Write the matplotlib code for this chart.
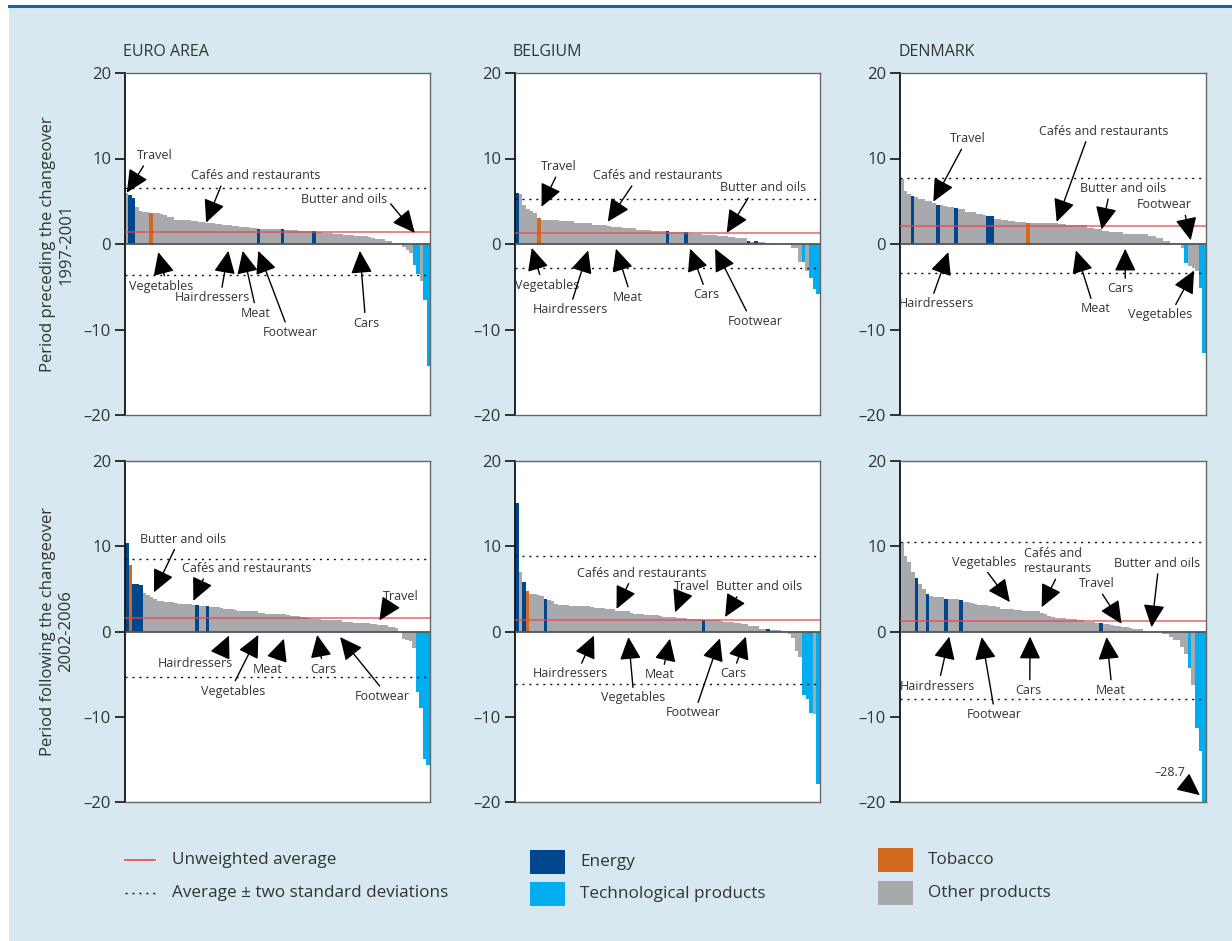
import matplotlib
matplotlib.use('Agg')
import matplotlib.pyplot as plt
from matplotlib.patches import Rectangle
from matplotlib.lines import Line2D

plt.rcParams['font.family'] = ['Open Sans', 'DejaVu Sans']

# ---------------- data ----------------
ea_pre_vals = [6.0, 5.7, 5.4, 4.35, 3.9, 3.75, 3.7, 3.6, 3.6, 3.6, 3.5, 3.45, 3.2, 3.1,
               2.85, 2.8, 2.8, 2.8, 2.75, 2.7, 2.65, 2.6, 2.55, 2.5, 2.45, 2.4, 2.35, 2.3,
               2.2, 2.2, 2.2, 2.15, 2.05, 2.0, 2.0, 1.95, 1.9, 1.85, 1.75, 1.75, 1.75, 1.75,
               1.7, 1.7, 1.7, 1.7, 1.65, 1.6, 1.6, 1.6, 1.55, 1.5, 1.5, 1.5, 1.5, 1.45, 1.4,
               1.3, 1.3, 1.25, 1.2, 1.2, 1.15, 1.1, 1.1, 1.05, 0.95, 0.95, 0.9, 0.9, 0.8,
               0.65, 0.6, 0.6, 0.55, 0.4, 0.3, 0.1, 0.05, 0.0, -0.3, -0.65, -1.05,
               -2.4, -3.5, -4.3, -6.5, -14.3]
ea_pre_energy = [1, 2, 38, 45, 54]
ea_pre_tobacco = [7]
ea_pre_tech = [83, 84, 86, 87]

be_pre_vals = [6.0, 5.85, 4.55, 4.1, 3.85, 3.6, 3.0, 2.8, 2.8, 2.8, 2.75, 2.75, 2.7, 2.7,
               2.65, 2.65, 2.45, 2.45, 2.45, 2.45, 2.45, 2.25, 2.25, 2.25, 2.25, 2.1,
               1.95, 1.95, 1.95, 1.85, 1.85, 1.85, 1.85, 1.65, 1.65, 1.65, 1.65, 1.55,
               1.55, 1.55, 1.5, 1.5, 1.45, 1.35, 1.35, 1.35, 1.35, 1.3, 1.15, 1.15, 1.15,
               1.0, 1.0, 1.0, 1.0, 0.9, 0.9, 0.9, 0.8, 0.8, 0.65, 0.65, 0.65, 0.4, 0.25,
               0.3, 0.2, 0.2, 0.1, 0.1, 0.02, 0.0, 0.0, -0.02, -0.05, -0.5, -0.5,
               -2.1, -2.1, -3.2, -4.0, -5.3, -5.9]
be_pre_energy = [0, 41, 46, 63, 65]
be_pre_tobacco = [6]
be_pre_tech = [78, 80, 81, 82]

dk_pre_vals = [7.6, 6.2, 5.9, 5.6, 5.45, 5.3, 5.3, 5.05, 5.0, 4.75, 4.55, 4.55, 4.4, 4.35,
               4.3, 4.2, 4.1, 4.05, 3.8, 3.75, 3.7, 3.55, 3.5, 3.45, 3.25, 3.25, 2.95, 2.9,
               2.8, 2.8, 2.65, 2.65, 2.6, 2.6, 2.6, 2.45, 2.45, 2.45, 2.45, 2.45, 2.45,
               2.45, 2.45, 2.45, 2.3, 2.3, 2.2, 2.2, 2.2, 2.2, 2.2, 2.2, 1.9, 1.9, 1.7,
               1.7, 1.55, 1.55, 1.4, 1.4, 1.4, 1.4, 1.2, 1.2, 1.2, 1.2, 1.15, 1.15, 1.15,
               0.9, 0.9, 0.65, 0.65, 0.4, 0.4, 0.1, 0.05, 0.02, -0.45, -2.25, -2.6,
               -2.8, -3.2, -5.2, -12.8]
dk_pre_energy = [3, 10, 15, 24, 25]
dk_pre_tobacco = [35]
dk_pre_tech = [79, 83, 84]

ea_post_vals = [10.4, 7.85, 5.6, 5.6, 5.4, 4.5, 4.3, 4.1, 3.8, 3.6, 3.6, 3.5, 3.45, 3.45,
                3.4, 3.25, 3.2, 3.2, 3.2, 3.15, 3.1, 3.0, 3.0, 2.95, 2.9, 2.85, 2.85, 2.8,
                2.65, 2.6, 2.6, 2.5, 2.45, 2.45, 2.4, 2.4, 2.4, 2.35, 2.15, 2.15, 2.1,
                2.05, 2.05, 2.0, 2.0, 2.0, 1.95, 1.85, 1.8, 1.8, 1.7, 1.7, 1.55, 1.5, 1.5,
                1.45, 1.4, 1.35, 1.35, 1.35, 1.3, 1.3, 1.15, 1.1, 1.1, 1.0, 1.0, 1.0, 1.0,
                0.95, 0.85, 0.85, 0.8, 0.8, 0.8, 0.55, 0.5, 0.45, 0.05, -0.85, -1.05,
                -1.15, -1.9, -7.1, -8.95, -14.9, -15.7]
ea_post_energy = [0, 2, 3, 4, 20, 23]
ea_post_tobacco = [1]
ea_post_tech = [83, 84, 85, 86]

be_post_vals = [15.05, 6.95, 5.8, 4.8, 4.4, 4.35, 4.3, 4.2, 3.85, 3.65, 3.55, 3.2, 3.15,
                3.15, 3.1, 2.95, 2.95, 2.95, 2.95, 2.95, 2.95, 2.9, 2.8, 2.8, 2.75, 2.65,
                2.65, 2.6, 2.45, 2.4, 2.4, 2.35, 2.15, 2.1, 2.1, 2.05, 1.95, 1.9, 1.9,
                1.9, 1.85, 1.75, 1.7, 1.7, 1.65, 1.6, 1.6, 1.55, 1.5, 1.5, 1.5, 1.45, 1.4,
                1.35, 1.3, 1.3, 1.3, 1.25, 1.15, 1.1, 1.1, 1.05, 0.95, 0.9, 0.85, 0.7,
                0.65, 0.6, 0.3, 0.3, 0.35, 0.2, 0.2, 0.15, 0.05, 0.05, -0.35, -0.8, -2.3,
                -3.0, -7.5, -7.95, -9.55, -9.7, -17.85]
be_post_energy = [0, 2, 8, 52, 70]
be_post_tobacco = [3]
be_post_tech = [80, 81, 82, 84]

dk_post_vals = [10.45, 8.9, 8.2, 7.0, 6.3, 5.6, 5.0, 4.35, 4.2, 4.0, 4.0, 4.0, 3.85, 3.85,
                3.85, 3.8, 3.65, 3.5, 3.45, 3.4, 3.2, 3.15, 3.15, 3.1, 3.0, 2.95, 2.9,
                2.65, 2.6, 2.6, 2.6, 2.55, 2.55, 2.45, 2.4, 2.4, 2.4, 2.35, 2.2, 2.1, 1.8,
                1.75, 1.6, 1.6, 1.6, 1.5, 1.5, 1.45, 1.3, 1.3, 1.15, 1.1, 1.1, 1.05, 0.95,
                0.9, 0.9, 0.75, 0.7, 0.65, 0.5, 0.5, 0.45, 0.3, 0.27, 0.25, 0.02, 0.0,
                -0.02, -0.05, -0.08, -0.25, -0.25, -0.65, -1.05, -1.05, -1.85, -2.6,
                -4.3, -6.3, -11.3, -14.05, -28.7]
dk_post_energy = [4, 7, 12, 16, 54]
dk_post_tobacco = []
dk_post_tech = [78, 80, 81, 82]

# average, average + 2 sd, average - 2 sd
ea_pre_lines = (1.4, 6.6, -3.6)
be_pre_lines = (1.25, 5.25, -2.8)
dk_pre_lines = (2.15, 7.7, -3.4)
ea_post_lines = (1.6, 8.5, -5.3)
be_post_lines = (1.35, 8.85, -6.1)
dk_post_lines = (1.25, 10.55, -7.95)

# annotations: label, tip x (fraction of bars), tip y, text x (fraction), text y, arrow start (relpos)
ea_pre_notes = [
    ("Travel", 0.006, 6.0, 0.098, 10.35, (0.25, 0.0)),
    ("Cafés and restaurants", 0.266, 2.5, 0.43, 8.0, (0.24, 0.0)),
    ("Butter and oils", 0.95, 1.3, 0.718, 5.2, (1.0, 0.5)),
    ("Vegetables", 0.109, -0.95, 0.118, -4.95, (0.57, 1.0)),
    ("Hairdressers", 0.339, -0.8, 0.286, -6.3, (0.62, 1.0)),
    ("Meat", 0.386, -0.8, 0.43, -8.1, (0.47, 1.0)),
    ("Footwear", 0.437, -0.8, 0.541, -10.35, (0.44, 1.0)),
    ("Cars", 0.77, -0.8, 0.79, -9.25, (0.47, 1.0)),
]
be_pre_notes = [
    ("Travel", 0.087, 4.35, 0.143, 9.05, (0.47, 0.0)),
    ("Cafés and restaurants", 0.304, 2.6, 0.468, 8.0, (0.32, 0.0)),
    ("Butter and oils", 0.694, 1.3, 0.812, 6.6, (0.36, 0.0)),
    ("Vegetables", 0.055, -0.45, 0.106, -4.8, (0.4, 1.0)),
    ("Hairdressers", 0.24, -0.75, 0.18, -7.7, (0.52, 1.0)),
    ("Meat", 0.331, -0.55, 0.368, -6.25, (0.57, 1.0)),
    ("Cars", 0.574, -0.55, 0.628, -5.95, (0.43, 1.0)),
    ("Footwear", 0.656, -0.55, 0.787, -9.05, (0.38, 1.0)),
]
dk_pre_notes = [
    ("Travel", 0.109, 4.95, 0.223, 12.3, (0.37, 0.0)),
    ("Cafés and restaurants", 0.512, 2.6, 0.667, 13.2, (0.37, 0.0)),
    ("Butter and oils", 0.659, 1.7, 0.728, 6.5, (0.34, 0.0)),
    ("Footwear", 0.95, 0.43, 0.863, 4.6, (0.87, 0.0)),
    ("Hairdressers", 0.158, -0.95, 0.118, -7.0, (0.45, 1.0)),
    ("Meat", 0.575, -0.75, 0.64, -7.6, (0.38, 1.0)),
    ("Cars", 0.736, -0.55, 0.719, -5.25, (0.7, 1.0)),
    ("Vegetables", 0.961, -3.1, 0.85, -8.3, (0.71, 1.0)),
]
ea_post_notes = [
    ("Butter and oils", 0.095, 4.6, 0.191, 10.85, (0.42, 0.0)),
    ("Cafés and restaurants", 0.224, 3.6, 0.399, 7.4, (0.18, 0.0)),
    ("Travel", 0.834, 1.3, 0.904, 4.1, (0.22, 0.0)),
    ("Hairdressers", 0.341, -0.47, 0.23, -3.8, (0.82, 1.0)),
    ("Vegetables", 0.437, -0.4, 0.353, -7.0, (0.51, 1.0)),
    ("Meat", 0.521, -0.85, 0.467, -4.5, (0.77, 1.0)),
    ("Cars", 0.63, -0.4, 0.65, -4.4, (0.46, 1.0)),
    ("Footwear", 0.705, -0.65, 0.845, -7.6, (0.5, 1.0)),
]
be_post_notes = [
    ("Cafés and restaurants", 0.333, 2.65, 0.417, 6.85, (0.41, 0.0)),
    ("Travel", 0.525, 2.25, 0.579, 5.3, (0.25, 0.0)),
    ("Butter and oils", 0.689, 1.7, 0.8, 5.3, (0.27, 0.0)),
    ("Hairdressers", 0.259, -0.47, 0.183, -4.95, (0.62, 1.0)),
    ("Vegetables", 0.372, -0.65, 0.388, -7.8, (0.5, 1.0)),
    ("Meat", 0.508, -0.85, 0.475, -5.1, (0.62, 1.0)),
    ("Footwear", 0.672, -0.8, 0.585, -9.55, (0.56, 1.0)),
    ("Cars", 0.757, -0.6, 0.716, -4.95, (0.57, 1.0)),
]
dk_post_notes = [
    ("Vegetables", 0.359, 3.45, 0.275, 8.15, (0.51, 0.0)),
    ("Cafés and\nrestaurants", 0.463, 2.85, 0.517, 8.25, (0.49, 0.0)),
    ("Travel", 0.724, 0.9, 0.643, 5.6, (0.59, 0.0)),
    ("Butter and oils", 0.822, 0.5, 0.841, 8.0, (0.51, 0.0)),
    ("Hairdressers", 0.161, -0.6, 0.122, -6.4, (0.53, 1.0)),
    ("Footwear", 0.267, -0.65, 0.307, -9.75, (0.5, 1.0)),
    ("Cars", 0.425, -0.6, 0.419, -6.9, (0.56, 1.0)),
    ("Meat", 0.675, -0.65, 0.69, -6.9, (0.51, 1.0)),
    ("\u201328.7", 0.98, -19.2, 0.882, -16.5, (0.8, 0.0)),
]

titles = ["EURO AREA", "BELGIUM", "DENMARK"]
row_labels = ["Period preceding the changeover\n1997-2001",
              "Period following the changeover\n2002-2006"]
yticks = [-20, -10, 0, 10, 20]
ytick_labels = ["\u201320", "\u201310", "0", "10", "20"]

# ---------------- style ----------------
W, H = 1232, 941
BG = '#d7e8f1'
cat_colors = {'E': '#00468c', 'T': '#00aeef', 'B': '#d2691e', 'O': '#a7a9ac'}
RED = '#e8474c'
TXT = '#333333'


def fx(x):
    return x / W


def fy(y):
    return 1 - y / H


def bar_colors(n, energy, tobacco, tech):
    cols = [cat_colors['O']] * n
    for i in energy:
        cols[i] = cat_colors['E']
    for i in tobacco:
        cols[i] = cat_colors['B']
    for i in tech:
        cols[i] = cat_colors['T']
    return cols


fig = plt.figure(figsize=(W / 100, H / 100), dpi=100)
fig.patch.set_facecolor('white')
fig.patches.append(Rectangle((fx(9), 0), 1 - fx(9), fy(7), transform=fig.transFigure,
                             facecolor=BG, edgecolor='none', zorder=-10))
fig.add_artist(Line2D([fx(9), 1], [fy(6), fy(6)], color='#1f5fa6', lw=2.2))

col_x = [(125, 430), (515, 820), (900, 1206)]
row_y = [(73, 415), (461, 802)]
title_x = [123, 513, 898]

panels = [
    [(ea_pre_vals, ea_pre_energy, ea_pre_tobacco, ea_pre_tech, ea_pre_lines, ea_pre_notes),
     (be_pre_vals, be_pre_energy, be_pre_tobacco, be_pre_tech, be_pre_lines, be_pre_notes),
     (dk_pre_vals, dk_pre_energy, dk_pre_tobacco, dk_pre_tech, dk_pre_lines, dk_pre_notes)],
    [(ea_post_vals, ea_post_energy, ea_post_tobacco, ea_post_tech, ea_post_lines, ea_post_notes),
     (be_post_vals, be_post_energy, be_post_tobacco, be_post_tech, be_post_lines, be_post_notes),
     (dk_post_vals, dk_post_energy, dk_post_tobacco, dk_post_tech, dk_post_lines, dk_post_notes)],
]

for r in range(2):
    y0, y1 = row_y[r]
    for c in range(3):
        x0, x1 = col_x[c]
        vals, en, tb, te, lines, notes = panels[r][c]
        n = len(vals)
        ax = fig.add_axes([fx(x0), fy(y1), (x1 - x0) / W, (y1 - y0) / H])
        ax.set_facecolor('white')
        ax.bar(range(n), vals, width=1.0, color=bar_colors(n, en, tb, te),
               linewidth=0, zorder=1)
        avg, up, lo = lines
        ax.axhline(0, color='#555555', lw=1.3, zorder=3)
        ax.axhline(avg, color=RED, lw=1.1, alpha=0.85, zorder=4)
        ax.axhline(up, color='#111111', lw=1.0, ls=(0, (1.5, 3.5)), zorder=4)
        ax.axhline(lo, color='#111111', lw=1.0, ls=(0, (1.5, 3.5)), zorder=4)
        ax.set_xlim(-0.5, n - 0.5)
        ax.set_ylim(-20, 20)
        ax.set_xticks([])
        ax.set_yticks(yticks)
        ax.set_yticklabels(ytick_labels)
        ax.tick_params(axis='y', direction='out', length=7, width=1.3, color='#222222',
                       labelcolor=TXT, labelsize=12, pad=3)
        for s in ['top', 'right', 'bottom']:
            ax.spines[s].set_color('#666666')
            ax.spines[s].set_linewidth(1.0)
        ax.spines['left'].set_color('#111111')
        ax.spines['left'].set_linewidth(1.3)
        for label, tx_, ty_, lx, ly, rp in notes:
            ax.annotate(label, xy=(tx_ * n - 0.5, ty_), xytext=(lx * n - 0.5, ly),
                        ha='center', va='center', fontsize=9, color=TXT,
                        multialignment='left', zorder=6, annotation_clip=False,
                        arrowprops=dict(arrowstyle='-|>,head_length=0.7,head_width=0.33',
                                        color='black', lw=1.0, mutation_scale=20,
                                        shrinkA=1, shrinkB=0, relpos=rp))
        if r == 0:
            fig.text(fx(title_x[c]), fy(52), titles[c], ha='left', va='center',
                     fontsize=11.5, color=TXT)
    fig.text(fx(57), fy((y0 + y1) / 2), row_labels[r], rotation=90, ha='center',
             va='center', fontsize=12, color=TXT, multialignment='center')

# ---------------- legend ----------------
fig.add_artist(Line2D([fx(125), fx(155)], [fy(860), fy(860)], color=RED, lw=1.2))
fig.text(fx(172), fy(860), "Unweighted average", ha='left', va='center', fontsize=12.3, color=TXT)
fig.add_artist(Line2D([fx(125), fx(155)], [fy(893), fy(893)], color='#111111', lw=1.0,
                      ls=(0, (1.5, 3.5))))
fig.text(fx(172), fy(893), "Average \u00b1 two standard deviations", ha='left', va='center',
         fontsize=12.3, color=TXT)
legend_boxes = [("Energy", 'E', 530, 862), ("Technological products", 'T', 530, 894),
                ("Tobacco", 'B', 878, 860), ("Other products", 'O', 878, 893)]
for name, key, bx, by in legend_boxes:
    fig.patches.append(Rectangle((fx(bx), fy(by + 12)), 35 / W, 24 / H,
                                 transform=fig.transFigure, facecolor=cat_colors[key],
                                 edgecolor='none'))
    fig.text(fx(bx + 50), fy(by), name, ha='left', va='center', fontsize=12.3, color=TXT)

fig.savefig('out.png', dpi=100, facecolor=fig.get_facecolor())
